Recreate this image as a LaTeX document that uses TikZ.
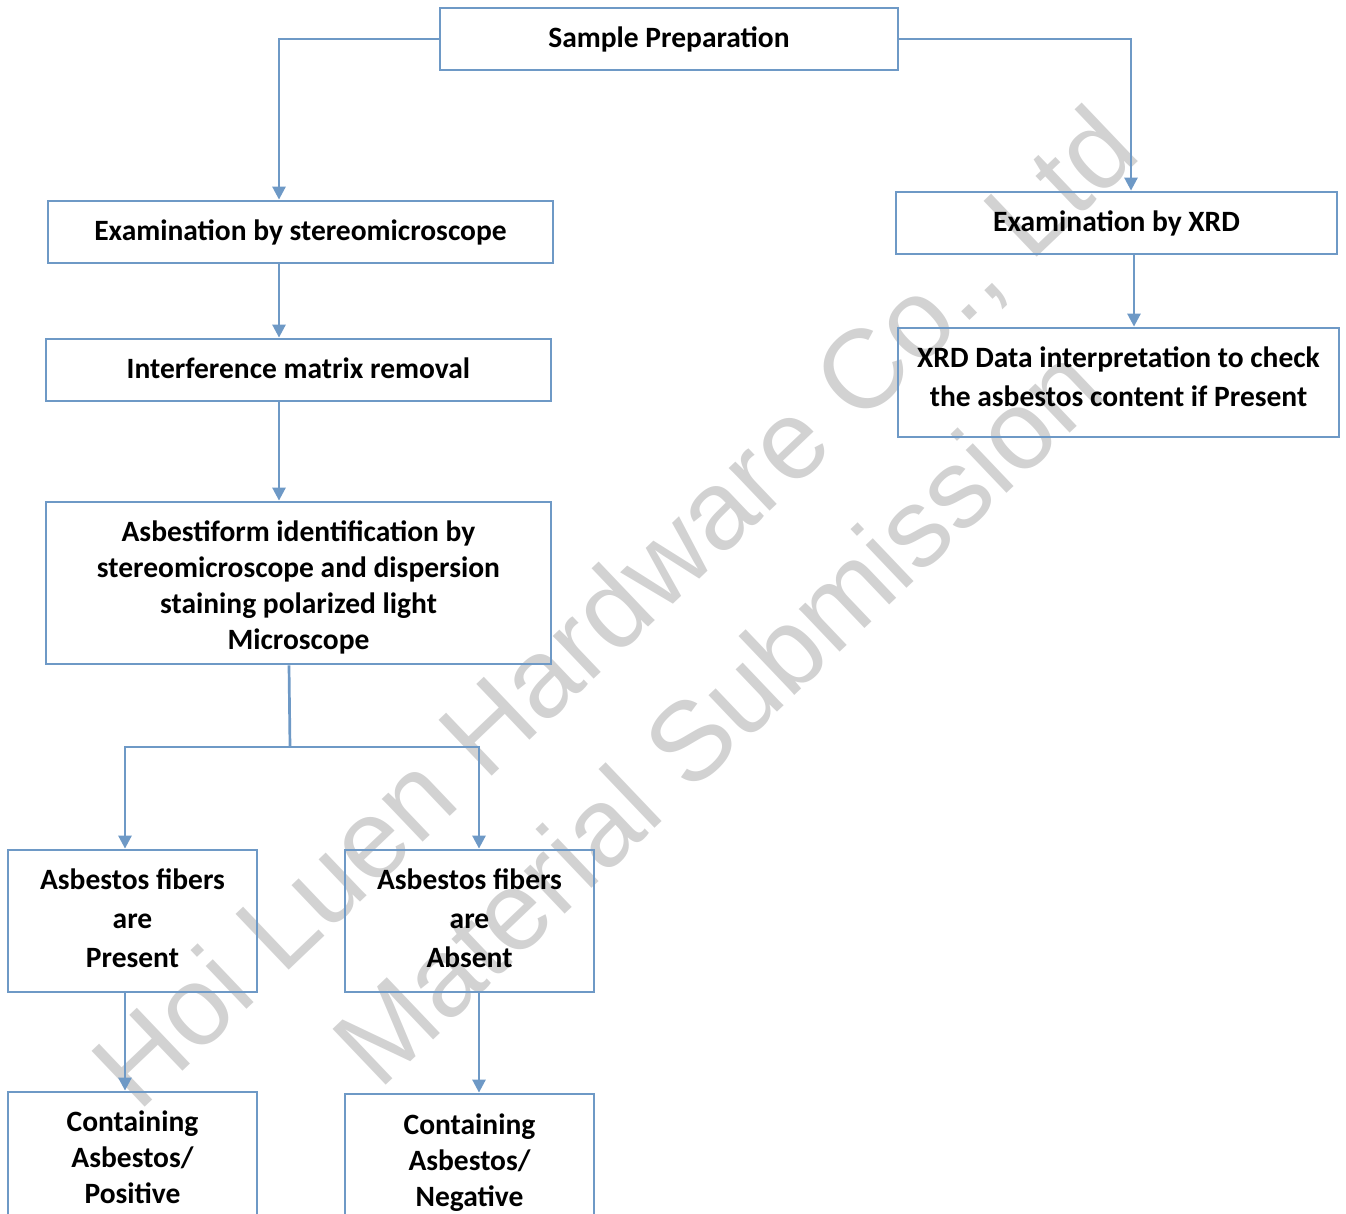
\documentclass[tikz,border=0pt]{standalone}
\usepackage{fontspec}
\setmainfont{Carlito}
\newfontfamily\markfont{Liberation Sans}
\usetikzlibrary{arrows.meta}
\definecolor{boxblue}{RGB}{110,153,198}
\definecolor{markgray}{RGB}{210,210,210}
\tikzset{
    box/.style={draw=boxblue, line width=2.8pt, align=center, inner sep=0pt,
        font=\fontsize{29.5}{36}\selectfont\bfseries},
    wide/.style={font=\fontsize{29.5}{39}\selectfont\bfseries},
    link/.style={draw=boxblue, line width=2.7pt,
        -{Triangle[length=13pt,width=13pt]}},
    plain/.style={draw=boxblue, line width=2.7pt}
}
\newcommand{\lowpad}[1]{\rule[-#1]{0pt}{0pt}}
\begin{document}
\begin{tikzpicture}[x=1pt, y=-1pt]
        \useasboundingbox (0,0) rectangle (1346,1213);
        % Filigrana
        \node[text=markgray, rotate=43.6, align=center,
              font=\fontsize{112}{150}\selectfont\markfont] (mark) at (665,660)
            {Hoi Luen Hardware Co., Ltd\\Material Submission};
        % Ramo a sinistra
        \node[box, minimum width=458pt, minimum height=62pt] (prep) at (669,39) {Sample Preparation};
        \node[box, minimum width=505pt, minimum height=62pt] (stereo) at (300.5,232) {Examination by stereomicroscope};
        \node[box, minimum width=505pt, minimum height=62pt] (matrix) at (298.5,370) {Interference matrix removal\lowpad{4pt}};
        \node[box, minimum width=505pt, minimum height=162pt] (ident) at (298.5,583)
            {\rule{0pt}{29pt}Asbestiform identification by\\stereomicroscope and dispersion\\staining polarized light\\Microscope};
        \node[box, wide, minimum width=249pt, minimum height=142pt] (present) at (132.5,921)
            {Asbestos fibers\\are\\Present\lowpad{6pt}};
        \node[box, wide, minimum width=249pt, minimum height=142pt] (absent) at (469.5,921)
            {Asbestos fibers\\are\\Absent\lowpad{6pt}};
        \node[box, minimum width=249pt, minimum height=130pt] (positive) at (132.5,1157)
            {Containing\\Asbestos/\\Positive};
        \node[box, minimum width=249pt, minimum height=130pt] (negative) at (469.5,1159)
            {\rule{0pt}{27pt}Containing\\Asbestos/\\Negative};
        % Ramo a destra
        \node[box, minimum width=441pt, minimum height=62pt] (xrd) at (1116.5,223) {Examination by XRD};
        \node[box, wide, minimum width=441pt, minimum height=109pt] (interp) at (1118.5,382.5)
            {XRD Data interpretation to check\\the asbestos content if Present\lowpad{12pt}};
        % Frecce
        \coordinate (split) at (290,747);
        \draw[link] (prep.west) -| ([xshift=-21.5pt]stereo.north);
        \draw[link] ([xshift=-21.5pt]stereo.south) -- ([xshift=-19.5pt]matrix.north);
        \draw[link] ([xshift=-19.5pt]matrix.south) -- ([xshift=-19.5pt]ident.north);
        \draw[plain] ([xshift=-9.5pt]ident.south) -- (split);
        \draw[link] (split) -| ([xshift=-7.5pt]present.north);
        \draw[link] (split) -| ([xshift=9.5pt]absent.north);
        \draw[link] ([xshift=-7.5pt]present.south) -- ([xshift=-7.5pt]positive.north);
        \draw[link] ([xshift=9.5pt]absent.south) -- ([xshift=9.5pt]negative.north);
        \draw[link] (prep.east) -| ([xshift=14.5pt]xrd.north);
        \draw[link] ([xshift=17.5pt]xrd.south) -- ([xshift=15.5pt]interp.north);
    \end{tikzpicture}
\end{document}
